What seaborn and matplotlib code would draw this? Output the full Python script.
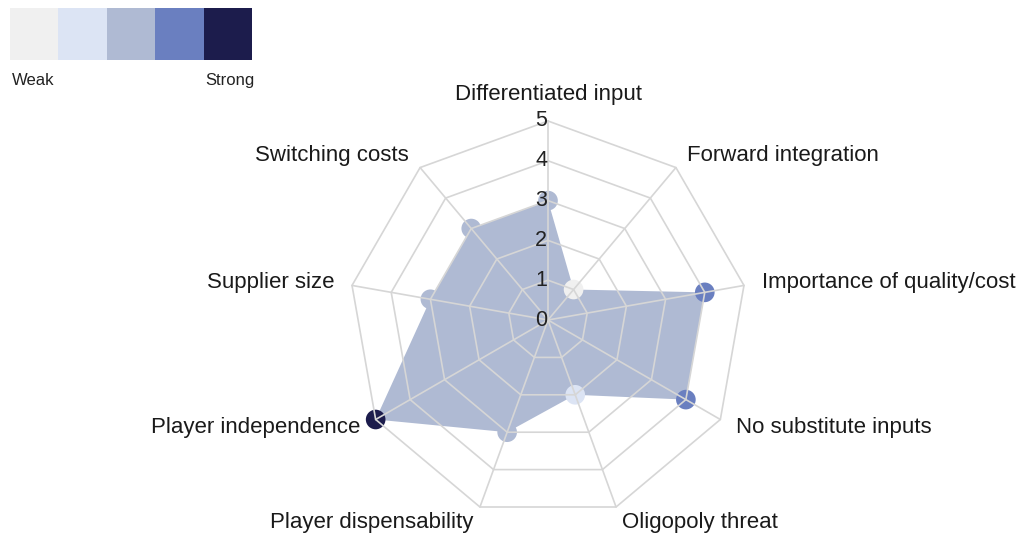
import numpy as np
import pandas as pd
import seaborn as sns
import matplotlib.pyplot as plt
from matplotlib.colors import ListedColormap

categories = ['Differentiated input', 'Forward integration', 'Importance of quality/cost',
              'No substitute inputs', 'Oligopoly threat', 'Player dispensability',
              'Player independence', 'Supplier size', 'Switching costs']
scores = [3, 1, 4, 4, 2, 3, 5, 3, 3]
levels = [0, 1, 2, 3, 4, 5]
scale_colors = ['#f0f0f0', '#dce4f4', '#afbad3', '#6a7fc0', '#1c1c4c']
scale_labels = ['Weak', 'Strong']

sns.set_theme(style='white')
plt.rcParams['font.family'] = ['Liberation Sans', 'DejaVu Sans']

n = len(categories)
df = pd.DataFrame({'category': categories, 'score': scores})
df['theta'] = np.arange(n) * 2 * np.pi / n

fig = plt.figure(figsize=(10.22, 5.37), dpi=100)
ax = fig.add_axes([349 / 1022, 18 / 537, 398 / 1022, 398 / 537], projection='polar')
ax.set_theta_zero_location('N')
ax.set_theta_direction(-1)
ax.set_ylim(0, max(levels))
ax.grid(False)
ax.spines['polar'].set_visible(False)
ax.set_xticks([])
ax.set_yticks([])
ax.patch.set_alpha(0)

# filled profile
closed_t = np.append(df['theta'], df['theta'].iloc[0])
closed_r = np.append(df['score'], df['score'].iloc[0])
ax.fill(closed_t, closed_r, color=scale_colors[2], lw=0, zorder=1)

# markers coloured by score
pal = {i + 1: c for i, c in enumerate(scale_colors)}
sns.scatterplot(data=df, x='theta', y='score', hue='score', palette=pal, s=200,
                edgecolor='none', legend=False, ax=ax, zorder=3, clip_on=False)
ax.set_xlabel('')
ax.set_ylabel('')

# polygon web drawn on top
grid_kw = dict(color='#d6d6d6', lw=1.2, zorder=4, clip_on=False)
for lv in levels[1:]:
    ax.plot(closed_t, [lv] * (n + 1), **grid_kw)
for t in df['theta']:
    ax.plot([t, t], [0, max(levels)], **grid_kw)

# radial tick labels along the top spoke
for lv in levels:
    ax.annotate(str(lv), (0, lv), xytext=(-1, 0), textcoords='offset pixels',
                ha='right', va='center', fontsize=15.5, color='#222222',
                annotation_clip=False, zorder=5)

# category labels
for t, name in zip(df['theta'], df['category']):
    s, c = np.sin(t), np.cos(t)
    ha = 'left' if s > 0.1 else ('right' if s < -0.1 else 'center')
    va = 'bottom' if c > 0.95 else 'center'
    ax.annotate(name, (t, max(levels)), xytext=(18 * s, 16 * c), textcoords='offset pixels',
                ha=ha, va=va, fontsize=16, color='#1a1a1a', annotation_clip=False)

# strength scale
lax = fig.add_axes([10 / 1022, 477 / 537, 242 / 1022, 52 / 537])
sns.heatmap([list(range(1, len(scale_colors) + 1))], cmap=ListedColormap(scale_colors),
            cbar=False, xticklabels=False, yticklabels=False, ax=lax)
fig.text(12 / 1022, 1 - 80 / 537, scale_labels[0], ha='left', va='center', fontsize=12, color='#222222')
fig.text(255 / 1022, 1 - 80 / 537, scale_labels[1], ha='right', va='center', fontsize=12, color='#222222')

fig.savefig('out.png', dpi=100)
